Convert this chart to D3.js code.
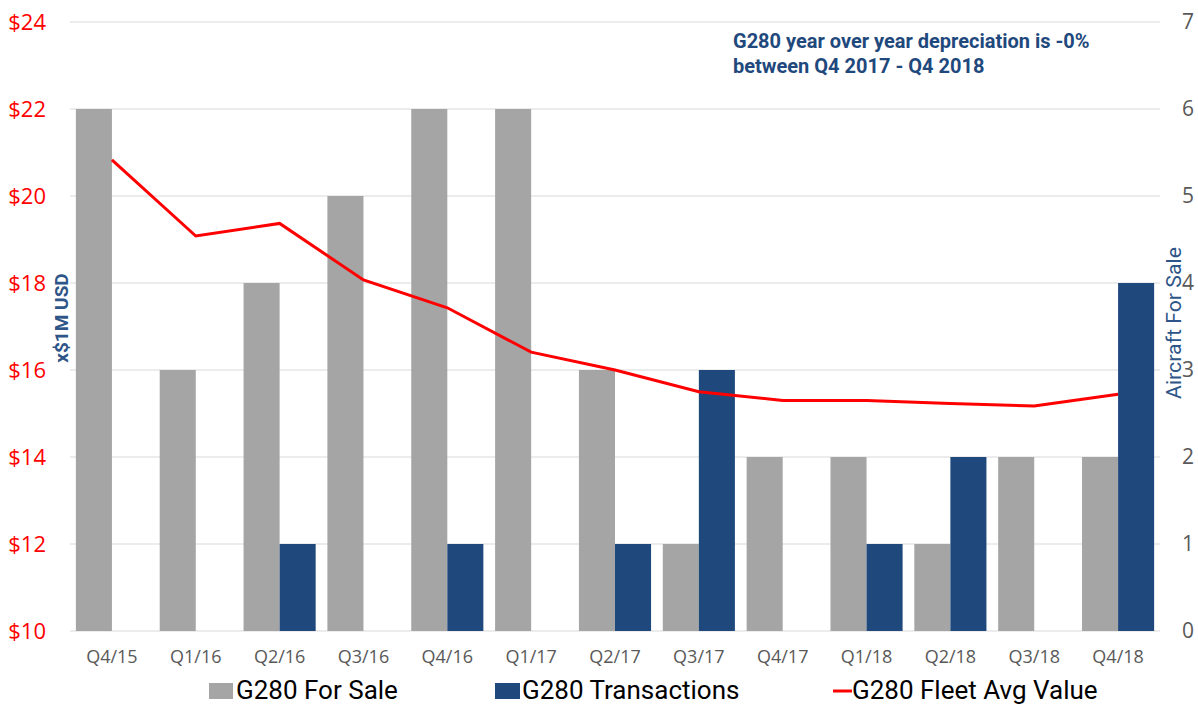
<!DOCTYPE html>
<html><head><meta charset="utf-8">
<script src="https://cdn.jsdelivr.net/npm/d3@7"></script>
<style>body{margin:0;background:#fff}svg{display:block}</style>
</head><body><svg id="c" width="1198" height="704"></svg>
<script>
const categories = ["Q4/15","Q1/16","Q2/16","Q3/16","Q4/16","Q1/17","Q2/17","Q3/17","Q4/17","Q1/18","Q2/18","Q3/18","Q4/18"];
const forSale = [6,3,4,5,6,6,3,1,2,2,1,2,2];
const transactions = [0,0,1,0,1,0,1,3,0,1,2,0,4];
const avgValue = [20.83,19.08,19.37,18.07,17.43,16.41,16.0,15.5,15.3,15.3,15.23,15.17,15.44];
const leftTicks = [10,12,14,16,18,20,22,24];
const rightTicks = [0,1,2,3,4,5,6,7];

const svg = d3.select("#c");
const L = 70, R = 1160, T = 22, B = 631;
const x = d3.scaleBand().domain(categories).range([L, R]).paddingInner(0.14).paddingOuter(0.07);
const xs = d3.scaleBand().domain(["s","t"]).range([0, x.bandwidth()]);
const yL = d3.scaleLinear().domain([10,24]).range([B, T]);
const yR = d3.scaleLinear().domain([0,7]).range([B, T]);

// gridlines
svg.append("g").selectAll("line").data(rightTicks).join("line")
  .attr("x1", L).attr("x2", R).attr("y1", d=>yR(d)).attr("y2", d=>yR(d))
  .attr("stroke", "#d9d9d9").attr("stroke-width", 1);

// bars
const g = svg.append("g");
g.selectAll(".s").data(categories).join("rect")
  .attr("x", d=>x(d)+xs("s")).attr("width", xs.bandwidth())
  .attr("y", (d,i)=>yR(forSale[i])).attr("height", (d,i)=>B - yR(forSale[i]))
  .attr("fill", "#a5a5a5");
g.selectAll(".t").data(categories).join("rect")
  .attr("x", d=>x(d)+xs("t")).attr("width", xs.bandwidth())
  .attr("y", (d,i)=>yR(transactions[i])).attr("height", (d,i)=>B - yR(transactions[i]))
  .attr("fill", "#1f497d");

// line
const line = d3.line().x((d,i)=>x(categories[i]) + x.bandwidth()/2).y(d=>yL(d));
svg.append("path").datum(avgValue).attr("d", line)
  .attr("fill","none").attr("stroke","#ff0000").attr("stroke-width",3);

// axes
const axL = d3.axisLeft(yL).tickValues(leftTicks).tickFormat(d=>"$"+d).tickSize(0).tickPadding(24);
const gl = svg.append("g").attr("transform",`translate(${L},0)`).call(axL);
gl.select(".domain").remove();
gl.selectAll("text").attr("fill","#ff0000").style("font-family","'Open Sans',sans-serif").style("font-size","22px");

const axR = d3.axisRight(yR).tickValues(rightTicks).tickFormat(d3.format("d")).tickSize(0).tickPadding(22);
const gr = svg.append("g").attr("transform",`translate(${R},0)`).call(axR);
gr.select(".domain").remove();
gr.selectAll("text").attr("fill","#595959").style("font-family","'Open Sans',sans-serif").style("font-size","21px");

const axB = d3.axisBottom(x).tickSize(0).tickPadding(19);
const gb = svg.append("g").attr("transform",`translate(0,${B})`).call(axB);
gb.select(".domain").remove();
gb.selectAll("text").attr("fill","#595959").style("font-family","'Open Sans',sans-serif").style("font-size","18px");

// axis titles
svg.append("text").attr("transform","translate(68,318) rotate(-90)").attr("text-anchor","middle")
  .attr("fill","#2e5587").style("font-family","Roboto,sans-serif").style("font-weight","bold").style("font-size","19px")
  .text("x$1M USD");
svg.append("text").attr("transform","translate(1181,323) rotate(-90)").attr("text-anchor","middle")
  .attr("textLength",152).attr("lengthAdjust","spacingAndGlyphs")
  .attr("fill","#2e5587").style("font-family","Roboto,sans-serif").style("font-size","21px")
  .text("Aircraft For Sale");

// annotation
const ann = svg.append("text").attr("fill","#1f497d").style("font-family","Roboto,sans-serif").style("font-weight","bold").style("font-size","20px");
ann.append("tspan").attr("x",733).attr("y",48).text("G280 year over year depreciation is -0%");
ann.append("tspan").attr("x",733).attr("y",73).text("between Q4 2017 - Q4 2018");

// legend
const leg = svg.append("g");
leg.append("rect").attr("x",209).attr("y",683).attr("width",24).attr("height",16).attr("fill","#a5a5a5");
leg.append("text").attr("x",236).attr("y",699).text("G280 For Sale");
leg.append("rect").attr("x",495).attr("y",683).attr("width",25).attr("height",16).attr("fill","#1f497d");
leg.append("text").attr("x",522).attr("y",699).text("G280 Transactions");
leg.append("line").attr("x1",833).attr("x2",852).attr("y1",691).attr("y2",691).attr("stroke","#ff0000").attr("stroke-width",3);
leg.append("text").attr("x",852).attr("y",699).text("G280 Fleet Avg Value");
leg.selectAll("text").attr("fill","#000").style("font-family","Roboto,sans-serif").style("font-size","26px");
</script></body></html>
